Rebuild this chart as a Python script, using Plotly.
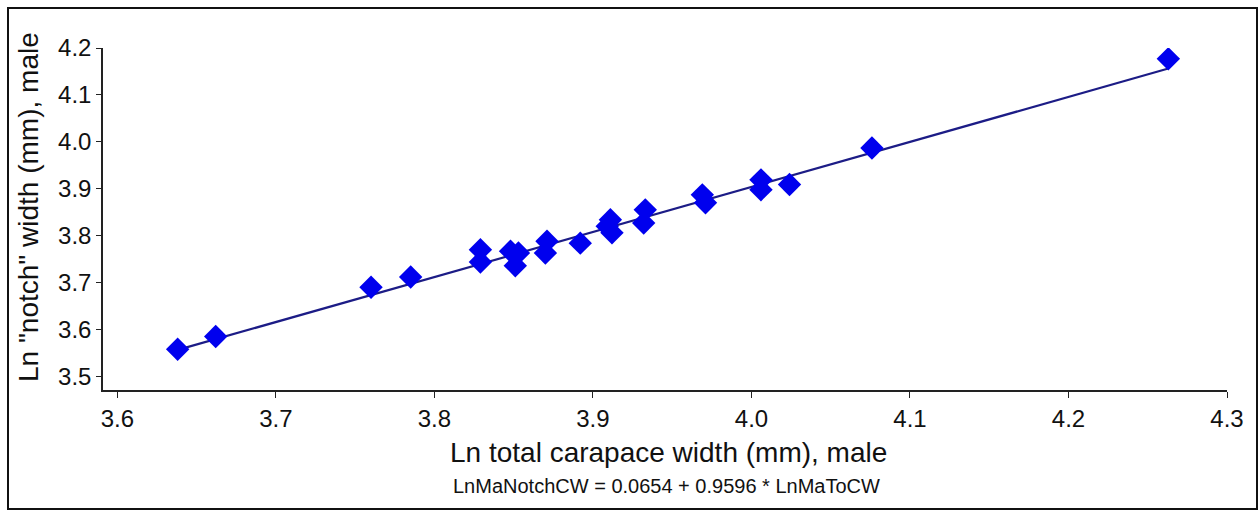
import plotly.graph_objects as go

# Data
ln_total_cw = [3.638, 3.662, 3.760, 3.785, 3.829, 3.829, 3.848, 3.853, 3.851,
               3.871, 3.870, 3.892, 3.911, 3.909, 3.912, 3.933, 3.932,
               3.969, 3.971, 4.006, 4.006, 4.024, 4.076, 4.263]
ln_notch_w = [3.558, 3.585, 3.690, 3.712, 3.770, 3.744, 3.767, 3.763, 3.736,
              3.788, 3.763, 3.784, 3.834, 3.820, 3.806, 3.855, 3.827,
              3.887, 3.870, 3.919, 3.898, 3.909, 3.987, 4.177]
intercept = 0.0654
slope = 0.9596
x_ticks = [3.6, 3.7, 3.8, 3.9, 4.0, 4.1, 4.2, 4.3]
y_ticks = [3.5, 3.6, 3.7, 3.8, 3.9, 4.0, 4.1, 4.2]
x_title = "Ln total carapace width (mm), male"
y_title = 'Ln "notch" width (mm), male'
equation = "LnMaNotchCW = 0.0654 + 0.9596 * LnMaToCW"

W, H = 1259, 510
L, R, T, B = 103, 32, 48, 120
pw, ph = W - L - R, H - T - B

def px_to_paper_x(px):
    return (px - L) / pw

def px_to_paper_y(py):
    return (H - B - py) / ph

xmin, xmax = min(ln_total_cw), max(ln_total_cw)
line_x = [xmin, xmax]
line_y = [intercept + slope * v for v in line_x]

fig = go.Figure()
fig.add_trace(go.Scatter(x=line_x, y=line_y, mode="lines",
                         line=dict(color="#1c1c86", width=2.2),
                         hoverinfo="skip", showlegend=False))
fig.add_trace(go.Scatter(x=ln_total_cw, y=ln_notch_w, mode="markers",
                         marker=dict(symbol="diamond", size=18, color="#0000EE",
                                     line=dict(width=0)),
                         showlegend=False))

font_family = "Liberation Sans, Arial, sans-serif"
fig.update_layout(
    width=W, height=H,
    margin=dict(l=L, r=R, t=T, b=B),
    paper_bgcolor="white", plot_bgcolor="white",
    font=dict(family=font_family, color="#111111"),
    xaxis=dict(range=[3.5909, 4.3], tickvals=x_ticks, tickformat=".1f",
               showgrid=False, zeroline=False, showline=True, linecolor="#222222",
               linewidth=1.5, ticks="outside", ticklen=6, tickcolor="#222222",
               tickfont=dict(size=24, family=font_family)),
    yaxis=dict(range=[3.471, 4.2], tickvals=y_ticks, tickformat=".1f",
               showgrid=False, zeroline=False, showline=True, linecolor="#222222",
               linewidth=1.5, ticks="outside", ticklen=5, tickcolor="#222222",
               tickfont=dict(size=24, family=font_family)),
    annotations=[
        dict(text=x_title, xref="paper", yref="paper",
             x=px_to_paper_x(668), y=px_to_paper_y(452),
             xanchor="center", yanchor="middle", showarrow=False,
             font=dict(size=28, family=font_family)),
        dict(text=equation, xref="paper", yref="paper",
             x=px_to_paper_x(666), y=px_to_paper_y(486),
             xanchor="center", yanchor="middle", showarrow=False,
             font=dict(size=20, family=font_family)),
        dict(text=y_title, xref="paper", yref="paper",
             x=px_to_paper_x(28), y=px_to_paper_y(207),
             xanchor="center", yanchor="middle", showarrow=False, textangle=-90,
             font=dict(size=28, family=font_family)),
    ],
    shapes=[dict(type="rect", xref="paper", yref="paper",
                 x0=px_to_paper_x(8), x1=px_to_paper_x(1257),
                 y0=px_to_paper_y(509), y1=px_to_paper_y(8),
                 line=dict(color="#111111", width=2), fillcolor="rgba(0,0,0,0)",
                 layer="below")],
)

fig.write_html("out.html")
